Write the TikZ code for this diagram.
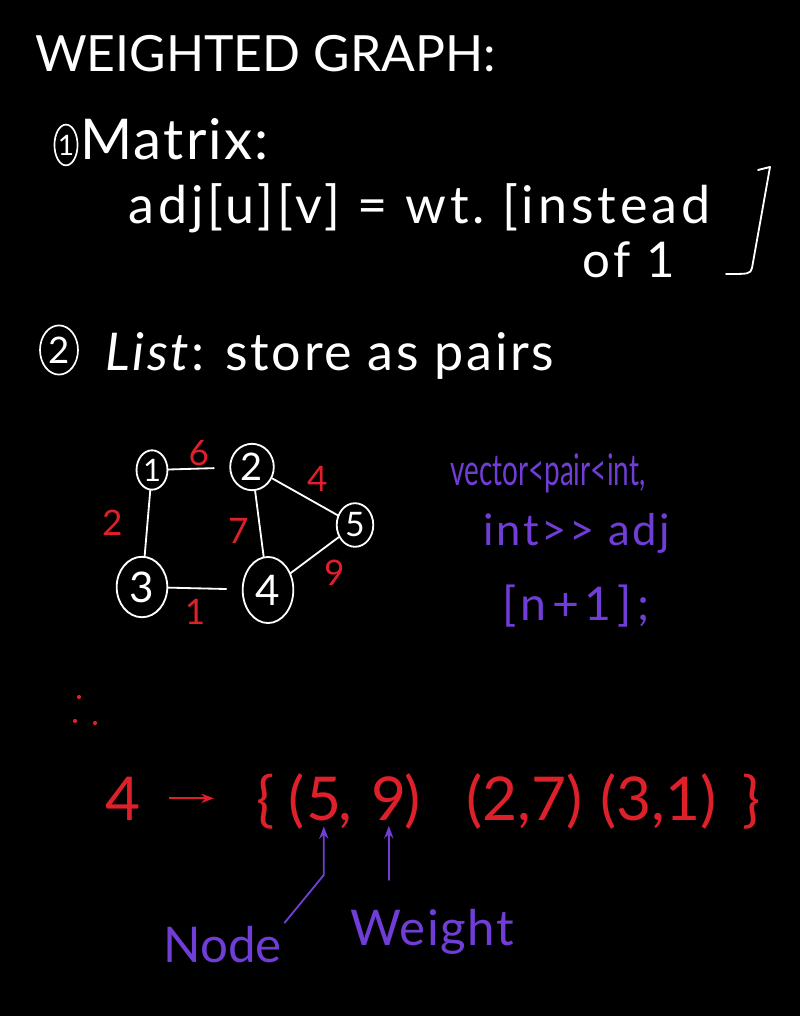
\documentclass[tikz,border=0pt]{standalone}
\usepackage{fontspec}
\setmainfont{Lato}
\newfontfamily\narrowfont[FakeStretch=0.64]{Lato}
\usetikzlibrary{arrows.meta, calc, positioning, shapes.geometric}
\definecolor{chalkred}{RGB}{222, 32, 42}
\definecolor{chalkpurple}{RGB}{112, 62, 215}

\begin{document}
\begin{tikzpicture}[x=0.025cm, y=-0.025cm, >=Stealth,
  chalk/.style={white, line width=1.3pt, line cap=round, line join=round},
  txt/.style={anchor=base west, inner sep=0pt, text=white},
  circnum/.style={ellipse, draw=white, line width=1.2pt, inner sep=0pt, text=white},
  gnode/.style={ellipse, draw=white, line width=1.3pt, inner sep=0pt, text=white},
  wt/.style={text=chalkred, inner sep=1pt, font=\fontsize{25}{25}\selectfont},
  code/.style={anchor=base west, inner sep=0pt, text=chalkpurple},
  redtxt/.style={anchor=base west, inner sep=0pt, text=chalkred, font=\fontsize{43}{45}\selectfont}]
  % board
  \fill[black] (0,0) rectangle (800,1016);
  \useasboundingbox (0,0) rectangle (800,1016);

  % Heading
  \node[txt, font=\fontsize{35.5}{40}\selectfont] (title) at (35,72) {WEIGHTED GRAPH:};

  % (1) Matrix
  \node[circnum, minimum width=16pt, minimum height=29pt, font=\fontsize{20}{20}\selectfont] (one) at (66,145) {1};
  \node[txt, font=\fontsize{40}{42}\selectfont\addfontfeatures{LetterSpace=4}] (matrix) at (80,160) {Matrix:};
  \node[txt, font=\fontsize{37}{40}\selectfont\addfontfeatures{LetterSpace=7.5}] (adj) at (128,224) {adj[u][v] = wt.\ [instead};
  \node[txt, font=\fontsize{35}{38}\selectfont\addfontfeatures{LetterSpace=7.5}] (of1) at (582,278) {of 1};
  \draw[chalk] (758,170) -- (770,167) -- (752,268) .. controls (750,274) .. (726,274);

  % (2) List
  \node[circnum, minimum width=27pt, minimum height=35pt, font=\fontsize{26}{26}\selectfont] (two) at (59,350) {2};
  \node[txt, font=\fontsize{37}{40}\selectfont\addfontfeatures{LetterSpace=5}] (list) at (105,370) {\textit{List}: store as pairs};

  % Graph
  \node[gnode, minimum width=22pt, minimum height=28pt, font=\fontsize{22}{22}\selectfont] (n1) at (152,470) {1};
  \node[gnode, minimum width=31pt, minimum height=33pt, font=\fontsize{27}{27}\selectfont] (n2) at (252,467) {2};
  \node[gnode, minimum width=26pt, minimum height=31pt, font=\fontsize{24}{24}\selectfont] (n5) at (355,525) {5};
  \node[gnode, minimum width=36pt, minimum height=43pt, font=\fontsize{30}{30}\selectfont] (n3) at (142,587) {3};
  \node[gnode, minimum width=36pt, minimum height=47pt, font=\fontsize{30}{30}\selectfont] (n4) at (268,590) {4};

  \draw[chalk, shorten >=11pt] (n1) -- node[wt, above=0pt] {6} (n2);
  \draw[chalk] (n1) -- node[wt, left=16pt] {2} (n3);
  \draw[chalk, shorten >=11pt] (n3) -- node[wt, below=6pt, xshift=-7pt] {1} (n4);
  \draw[chalk] (n2) -- node[wt, left=6pt, yshift=-5pt] {7} (n4);
  \draw[chalk] (n2) -- node[wt, above right=2pt and 0pt] {4} (n5);
  \draw[chalk] (n5) -- node[wt, below right=2pt and 5pt] {9} (n4);

  % Declaration
  \node[code, font=\fontsize{31}{33}\narrowfont] (vec1) at (450,485) {vector<pair<int,};
  \node[code, font=\fontsize{31}{33}\selectfont\addfontfeatures{LetterSpace=6}] (vec2) at (483,545) {int>{}> adj};
  \node[code, font=\fontsize{33}{35}\selectfont\addfontfeatures{LetterSpace=12}] (vec3) at (502,620) {[n+1];};

  % stray marks
  \fill[chalkred] (79,697) circle (1.5pt) (75,721) circle (1.5pt) (95,723) circle (1.5pt);

  % List of node 4
  \node[redtxt] (four) at (105,820) {4};
  \node[redtxt] (obrace) at (256,820) {\{};
  \node[redtxt] (lpar) at (288,820) {(};
  \node[redtxt] (five) at (306,820) {5};
  \node[redtxt] (comma) at (338,820) {,};
  \node[redtxt] (nine) at (371,820) {9};
  \node[redtxt] (rpar) at (404,820) {)};
  \node[redtxt] (pairB) at (466,820) {(2,7)};
  \node[redtxt] (pairC) at (600,820) {(3,1)};
  \node[redtxt] (cbrace) at (742,820) {\}};
  \draw[->, chalkred, line width=1.3pt, shorten <=20pt, shorten >=30pt] (four.east) -- (four.east -| obrace.west);

  % Labels
  \node[txt, text=chalkpurple, font=\fontsize{35}{38}\selectfont] (nodelbl) at (163,962) {Node};
  \node[txt, text=chalkpurple, font=\fontsize{35}{38}\selectfont\addfontfeatures{LetterSpace=3}] (weightlbl) at (350,945) {Weight};
  \coordinate (kink) at (five.south |- 0,875);
  \draw[->, chalkpurple, line width=1.3pt, line cap=round] ([shift={(2pt,2pt)}]nodelbl.north east) -- (kink) -- ([yshift=-4pt]five.south);
  \draw[->, chalkpurple, line width=1.3pt, line cap=round] (nine.south |- 0,880) -- ([yshift=-4pt]nine.south);
\end{tikzpicture}
\end{document}
